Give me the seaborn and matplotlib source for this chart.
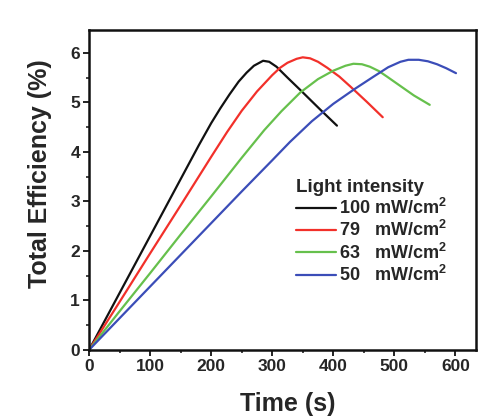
import matplotlib
matplotlib.use('Agg')
import matplotlib.pyplot as plt
import numpy as np
import pandas as pd
import seaborn as sns
from matplotlib.ticker import MultipleLocator

# values
t_100 = [0, 50, 100, 150, 180, 200, 215, 230, 245, 258, 270, 285, 295, 307, 325, 346, 379, 406]
e_100 = [0, 1.15, 2.3, 3.45, 4.14, 4.58, 4.88, 5.16, 5.42, 5.6, 5.74, 5.84, 5.82, 5.72, 5.5, 5.25, 4.85, 4.53]

t_79 = [0, 50, 100, 150, 200, 226, 250, 275, 300, 313, 325, 340, 350, 362, 375, 390, 410, 428, 455, 481]
e_79 = [0, 0.97, 1.95, 2.92, 3.9, 4.4, 4.83, 5.22, 5.55, 5.7, 5.8, 5.88, 5.91, 5.89, 5.82, 5.7, 5.52, 5.32, 5.01, 4.7]

t_63 = [0, 50, 100, 150, 200, 250, 287, 315, 346, 375, 400, 420, 433, 447, 460, 475, 488, 510, 532, 558]
e_63 = [0, 0.78, 1.55, 2.33, 3.1, 3.88, 4.44, 4.82, 5.2, 5.47, 5.64, 5.74, 5.78, 5.77, 5.72, 5.63, 5.52, 5.33, 5.14, 4.95]

t_50 = [0, 50, 100, 150, 200, 250, 300, 329, 365, 400, 435, 466, 490, 510, 523, 540, 555, 570, 585, 601]
e_50 = [0, 0.64, 1.28, 1.92, 2.56, 3.2, 3.83, 4.2, 4.62, 4.97, 5.27, 5.52, 5.71, 5.82, 5.86, 5.86, 5.83, 5.77, 5.69, 5.59]

labels = [r'100 mW/cm$^\mathbf{2}$', r'79   mW/cm$^\mathbf{2}$',
          r'63   mW/cm$^\mathbf{2}$', r'50   mW/cm$^\mathbf{2}$']
colors = ['#111111', '#f2302a', '#66c04c', '#3b4db8']

frames = []
for lab, t, e in zip(labels, [t_100, t_79, t_63, t_50], [e_100, e_79, e_63, e_50]):
    frames.append(pd.DataFrame({'Time (s)': t, 'Total Efficiency (%)': e, 'Light intensity': lab}))
df = pd.concat(frames, ignore_index=True)

sns.set_style('ticks')
plt.rcParams['font.family'] = ['Liberation Sans', 'DejaVu Sans']
plt.rcParams['font.weight'] = 'bold'
plt.rcParams['mathtext.fontset'] = 'custom'
plt.rcParams['mathtext.bf'] = 'Liberation Sans:bold'
plt.rcParams['mathtext.rm'] = 'Liberation Sans:bold'

fig = plt.figure(figsize=(4.79, 4.18), dpi=100)
ax = fig.add_axes([0.186, 0.163, 0.808, 0.765])

sns.lineplot(
    data=df, x='Time (s)', y='Total Efficiency (%)', hue='Light intensity',
    palette=dict(zip(labels, colors)), sort=False, estimator=None,
    linewidth=1.6, ax=ax,
)

ax.set_xlim(0, 634)
ax.set_ylim(0, 6.46)
ax.xaxis.set_major_locator(MultipleLocator(100))
ax.xaxis.set_minor_locator(MultipleLocator(50))
ax.yaxis.set_major_locator(MultipleLocator(1))
ax.yaxis.set_minor_locator(MultipleLocator(0.5))
ax.tick_params(which='major', length=4.5, width=1.3, labelsize=12.5, pad=2, color='#111111')
ax.tick_params(which='minor', length=2.5, width=1.1, color='#111111')
for lbl in ax.get_xticklabels() + ax.get_yticklabels():
    lbl.set_fontweight('bold')
for sp in ax.spines.values():
    sp.set_linewidth(1.8)
    sp.set_color('#111111')

ax.set_xlabel('Time (s)', fontsize=18, fontweight='bold')
ax.set_ylabel('Total Efficiency (%)', fontsize=18, fontweight='bold')
ax.xaxis.set_label_coords(0.513, -0.132)
ax.yaxis.set_label_coords(-0.097, 0.55)

leg = ax.legend(
    title='Light intensity', loc='upper left', bbox_to_anchor=(0.535, 0.535),
    frameon=False, fontsize=13, title_fontsize=13.5, handlelength=2.2,
    handletextpad=0.2, labelspacing=0.12, borderaxespad=0, borderpad=0,
)
leg.get_title().set_fontweight('bold')
leg._legend_box.align = 'left'
for txt in leg.get_texts():
    txt.set_fontweight('bold')
for line in leg.get_lines():
    line.set_linewidth(1.6)

fig.savefig('out.png', dpi=100)
